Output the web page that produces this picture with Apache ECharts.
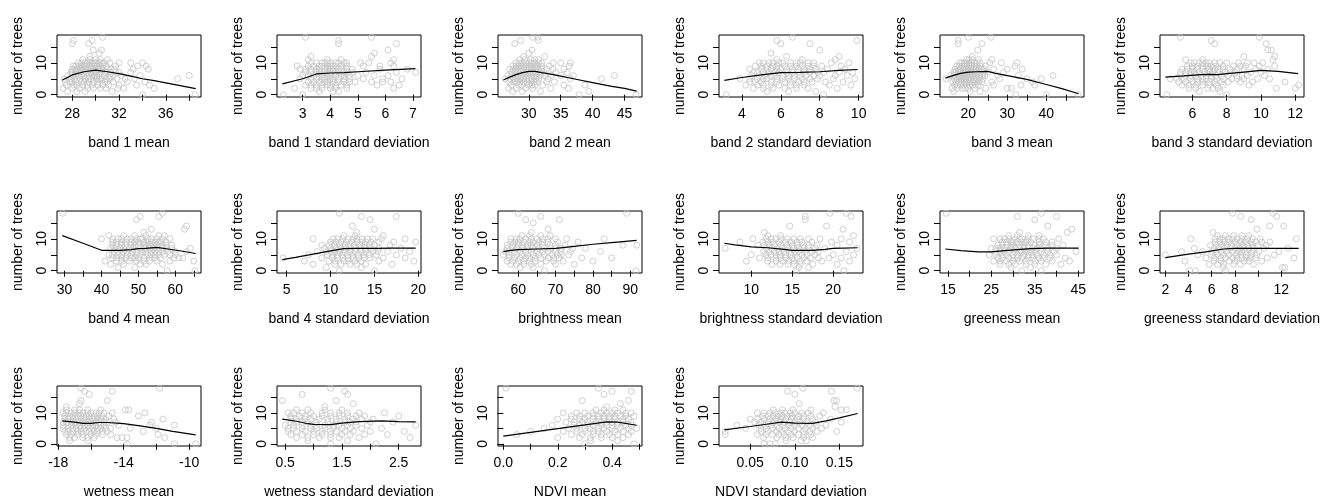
<!DOCTYPE html>
<html>
<head>
<meta charset="utf-8">
<script src="https://cdn.jsdelivr.net/npm/echarts@6/dist/echarts.min.js"></script>
<style>
  html, body { margin: 0; padding: 0; background: #fff; }
  #chart { width: 1331px; height: 500px; }
</style>
</head>
<body>
<div id="chart"></div>
<script>
// panel titles (x axis names), in reading order
var xNames = ['band 1 mean', 'band 1 standard deviation', 'band 2 mean', 'band 2 standard deviation',
    'band 3 mean', 'band 3 standard deviation', 'band 4 mean', 'band 4 standard deviation',
    'brightness mean', 'brightness standard deviation', 'greeness mean', 'greeness standard deviation',
    'wetness mean', 'wetness standard deviation', 'NDVI mean', 'NDVI standard deviation'];
var yName = 'number of trees';

var xTicks = [[28, 30, 32, 34, 36, 38], [3, 4, 5, 6, 7], [30, 35, 40, 45], [4, 6, 8, 10],
    [20, 25, 30, 35, 40, 45], [6, 8, 10, 12], [30, 35, 40, 45, 50, 55, 60, 65], [5, 10, 15, 20],
    [60, 65, 70, 75, 80, 85, 90], [10, 15, 20], [15, 20, 25, 30, 35, 40, 45], [2, 4, 6, 8, 10, 12],
    [-18, -16, -14, -12, -10], [0.5, 1, 1.5, 2, 2.5], [0, 0.1, 0.2, 0.3, 0.4, 0.5], [0.05, 0.1, 0.15]];
var xLabels = [[28, 32, 36], [3, 4, 5, 6, 7], [30, 35, 40, 45], [4, 6, 8, 10],
    [20, 30, 40], [6, 8, 10, 12], [30, 40, 50, 60], [5, 10, 15, 20],
    [60, 70, 80, 90], [10, 15, 20], [15, 25, 35, 45], [2, 4, 6, 8, 12],
    [-18, -14, -10], [0.5, 1.5, 2.5], [0, 0.2, 0.4], [0.05, 0.1, 0.15]];
var xDecimals = [0, 0, 0, 0, 0, 0, 0, 0, 0, 0, 0, 0, 0, 1, 1, 2];
var yTicks = [0, 5, 10, 15];
var yLabels = [0, 10];

// observations: index of the inner list = number of trees, values = x
var band1Mean = [[34.0, 38.5], [27.6, 28.4, 29.1, 31.4],
    [27.2, 28.0, 28.6, 29.3, 30.9, 31.9, 32.4, 35.0, 29.8, 30.4],
    [27.5, 28.1, 28.9, 29.7, 30.6, 31.1, 33.5, 34.6, 28.4, 29.3, 30.2, 32.0],
    [27.4, 27.8, 28.3, 28.8, 29.4, 30.2, 30.8, 31.5, 32.7, 34.2, 28.0, 29.0, 29.8, 31.0],
    [27.3, 28.2, 28.7, 29.1, 29.6, 30.1, 30.5, 30.9, 31.8, 32.5, 33.3, 37.0, 27.9, 29.4, 30.3, 31.2],
    [27.6, 28.0, 28.5, 29.0, 29.4, 29.9, 30.3, 30.7, 31.2, 32.2, 33.8, 38.0, 28.2, 28.8, 29.7, 30.1, 31.5],
    [27.9, 28.3, 28.7, 29.2, 29.6, 30.0, 30.4, 30.8, 31.3, 32.0, 33.0, 28.0, 28.5, 29.0, 29.8, 31.0, 31.7],
    [28.0, 28.4, 28.9, 29.3, 29.8, 30.2, 30.6, 31.0, 31.6, 33.2, 34.5, 28.2, 28.7, 29.1, 29.6, 30.4, 31.3],
    [28.1, 28.6, 29.0, 29.5, 29.9, 30.3, 30.9, 31.7, 33.6, 34.3, 28.3, 28.8, 29.2, 29.7, 30.1, 30.6],
    [28.5, 29.1, 29.5, 29.9, 30.1, 30.5, 31.2, 32.0, 33.0, 34.0, 28.8, 29.3, 29.7, 30.3, 30.7],
    [29.5, 30.0, 30.4, 28.9, 31.0], [29.5], [30.3], [29.8, 30.5], [], [28.0, 29.4], [28.1, 29.7], [30.6]];
var band1Sd = [[2.3, 3.0], [3.6, 4.1, 4.3], [2.7, 3.3, 3.7, 4.0, 4.6, 6.3, 3.5, 4.2],
    [3.1, 3.5, 3.9, 4.2, 4.4, 5.7, 6.5, 3.3, 3.7, 4.0, 4.6],
    [3.2, 3.6, 3.8, 4.1, 4.5, 4.9, 5.5, 5.9, 6.2, 3.4, 3.9, 4.3, 4.7],
    [2.9, 3.3, 3.7, 4.0, 4.3, 4.7, 5.2, 6.6, 3.5, 3.8, 4.1, 4.5, 5.9],
    [3.0, 3.4, 3.6, 3.9, 4.2, 4.5, 5.0, 5.6, 6.1, 3.2, 3.7, 4.0, 4.4, 4.7],
    [3.1, 3.5, 3.8, 4.0, 4.3, 4.6, 5.3, 6.4, 7.1, 3.3, 3.6, 3.9, 4.2, 4.5, 4.8],
    [2.9, 3.3, 3.6, 3.9, 4.1, 4.4, 4.8, 5.8, 6.8, 3.1, 3.5, 3.8, 4.0, 4.3, 4.6],
    [2.8, 3.4, 3.7, 4.0, 4.2, 4.6, 5.2, 5.8, 6.3, 3.2, 3.6, 3.9, 4.1, 4.4],
    [3.5, 3.8, 4.0, 4.3, 4.6, 5.1, 5.4, 6.2, 3.3, 3.7, 3.9, 4.2, 4.5],
    [3.2, 3.9, 6.3, 4.4], [3.3, 5.5], [5.6], [6.1], [], [4.3, 6.4], [4.3], [3.1, 5.5]];
var band2Mean = [[37.9, 46.8], [27.5, 29.0, 31.8, 39.4], [26.8, 28.0, 29.5, 30.6, 33.4, 36.2],
    [27.2, 28.4, 29.9, 31.0, 32.2, 35.5, 38.8, 28.9, 30.5],
    [27.0, 28.1, 29.2, 30.3, 31.3, 32.8, 34.0, 27.6, 28.6, 29.7, 30.8],
    [26.3, 27.6, 28.6, 29.6, 30.5, 31.6, 33.0, 36.5, 41.4, 27.1, 28.1, 29.1, 30.0, 31.1],
    [26.7, 27.8, 28.8, 29.8, 30.8, 31.8, 33.5, 35.0, 37.0, 43.4, 27.3, 28.3, 29.3, 30.3, 31.3, 32.5],
    [27.3, 28.3, 29.3, 30.2, 31.2, 32.4, 34.2, 36.0, 27.8, 28.8, 29.8, 30.7, 31.7],
    [27.0, 28.0, 29.0, 30.0, 31.0, 32.0, 33.8, 35.5, 27.5, 28.5, 29.5, 30.5, 31.5, 32.8],
    [27.5, 28.5, 29.5, 30.4, 31.4, 33.2, 36.3, 28.0, 29.0, 30.0, 31.0, 32.0],
    [28.0, 29.0, 30.0, 30.9, 32.0, 33.8, 35.0, 36.5, 28.5, 29.5, 30.5, 31.5],
    [28.6, 30.3, 31.5, 29.4, 30.9], [29.2, 32.5], [30.0], [30.5], [], [27.8], [28.7, 31.5], [30.6, 31.4]];
var band2Sd = [[3.2, 8.2], [5.3, 6.4, 7.8], [4.6, 5.6, 6.8, 7.4, 8.9, 5.1, 6.2],
    [4.2, 5.1, 5.9, 6.5, 7.2, 8.5, 9.6, 4.8, 5.5, 6.8],
    [4.4, 5.0, 5.5, 6.2, 6.9, 7.6, 8.3, 9.2, 4.7, 5.8, 6.5, 7.2],
    [3.9, 4.8, 5.3, 5.8, 6.4, 7.1, 7.9, 8.7, 9.8, 4.4, 5.1, 6.1, 6.7, 7.5],
    [4.5, 5.2, 5.7, 6.1, 6.7, 7.3, 8.0, 8.8, 9.4, 4.9, 5.5, 6.4, 7.0, 7.7],
    [4.8, 5.4, 5.9, 6.3, 6.9, 7.5, 8.2, 9.0, 9.7, 4.6, 5.1, 5.7, 6.6, 7.2, 7.9],
    [5.0, 5.5, 6.0, 6.6, 7.2, 7.8, 8.4, 9.3, 4.4, 5.3, 5.8, 6.3, 6.9, 7.5],
    [4.7, 5.3, 5.8, 6.2, 6.8, 7.4, 8.1, 9.1, 5.0, 5.6, 6.5, 7.1, 7.7],
    [5.1, 5.6, 6.1, 6.5, 7.0, 7.7, 8.6, 9.5, 4.9, 5.4, 5.9, 6.8, 7.4],
    [5.8, 7.1, 8.8], [6.3, 9.0], [5.5], [8.0], [], [6.0, 7.5], [5.8, 9.9], [6.6]];
var band3Mean = [[32.2, 40.0, 48.2], [16.2, 20.5, 23.0], [15.8, 18.4, 20.0, 21.6, 24.5, 30.0, 31.0, 17.2, 19.2],
    [16.5, 18.0, 19.6, 21.0, 22.5, 26.5, 33.5, 37.0, 17.2, 18.8, 20.3, 21.8],
    [16.0, 17.5, 19.0, 20.3, 21.8, 23.5, 26.0, 36.5, 16.8, 18.2, 19.6, 21.0, 22.6],
    [14.3, 17.0, 18.2, 19.4, 20.6, 22.0, 23.8, 28.0, 35.0, 38.7, 16.4, 17.6, 18.8, 20.0, 21.3, 22.8],
    [15.5, 17.3, 18.6, 19.8, 21.2, 22.6, 24.3, 27.5, 32.8, 41.7, 16.2, 17.9, 19.2, 20.5, 21.9, 23.5],
    [16.8, 18.0, 19.2, 20.4, 21.6, 23.0, 25.0, 29.0, 16.3, 17.4, 18.6, 19.8, 21.0, 22.3, 24.0],
    [17.5, 18.8, 20.0, 21.4, 22.8, 24.0, 26.5, 30.0, 33.8, 16.6, 18.1, 19.4, 20.7, 22.0, 23.4],
    [17.0, 18.4, 19.6, 20.8, 22.2, 24.5, 32.0, 17.6, 19.0, 20.2, 21.5, 23.0],
    [17.8, 19.0, 20.2, 21.5, 23.0, 25.5, 28.5, 32.5, 18.4, 19.6, 20.8, 22.2],
    [19.5, 21.0, 26.0, 20.2, 22.6], [21.0], [], [22.4], [], [17.4, 23.5], [17.4], [20.0, 25.8]];
var band3Sd = [[4.5, 8.0], [6.4, 7.6], [5.8, 6.9, 7.5, 10.9, 12.0, 6.2, 7.2],
    [5.4, 6.2, 7.0, 7.8, 9.3, 12.2, 5.8, 6.6, 7.4],
    [5.2, 6.0, 6.6, 7.3, 8.1, 8.8, 9.5, 11.4, 5.6, 6.3, 7.0, 7.7],
    [4.7, 5.5, 6.3, 6.8, 7.4, 8.3, 9.0, 9.8, 10.5, 5.1, 5.9, 6.6, 7.1, 7.8, 8.6],
    [5.3, 5.9, 6.5, 7.1, 7.7, 8.6, 9.2, 10.2, 5.6, 6.2, 6.8, 7.4, 8.1, 8.9],
    [5.6, 6.1, 6.7, 7.2, 7.9, 8.5, 9.4, 10.0, 5.3, 5.9, 6.4, 7.0, 7.5, 8.2],
    [5.4, 6.0, 6.6, 7.0, 7.5, 8.2, 9.0, 9.7, 10.4, 5.7, 6.3, 6.9, 7.3, 7.8, 8.6],
    [5.7, 6.3, 6.9, 7.4, 8.4, 9.1, 9.9, 10.8, 6.0, 6.6, 7.1, 7.8, 8.8],
    [5.9, 6.4, 6.8, 7.3, 8.0, 8.7, 9.6, 10.1, 6.1, 6.6, 7.0, 7.6, 9.2],
    [5.6, 6.6, 10.7], [9.0, 10.8], [], [10.4, 10.6], [], [7.3, 10.3], [7.1], [5.3, 9.9]];
var band4Mean = [[57.8, 65.3], [44.5, 49.0], [42.5, 46.0, 50.5, 52.0, 56.5],
    [41.0, 44.0, 47.5, 51.5, 55.0, 58.5, 65.0, 45.5, 49.5, 53.0],
    [43.0, 45.5, 48.0, 50.0, 53.0, 56.0, 59.5, 61.0, 62.0, 44.0, 46.5, 49.0, 51.5, 54.5],
    [42.0, 44.5, 47.0, 49.5, 52.5, 54.5, 57.0, 60.0, 43.0, 45.5, 48.0, 50.5, 53.5, 55.5, 58.5],
    [43.5, 46.0, 48.5, 51.0, 53.5, 55.5, 58.0, 63.0, 44.5, 47.0, 49.5, 52.0, 54.5, 56.5, 60.0],
    [42.5, 45.0, 47.5, 50.5, 52.0, 54.0, 56.5, 59.0, 64.0, 43.5, 46.0, 48.5, 51.5, 53.0, 55.0, 57.5],
    [44.0, 46.5, 49.0, 51.5, 53.0, 55.0, 57.5, 43.0, 45.5, 48.0, 50.0, 52.0, 54.0, 56.5, 59.0],
    [43.0, 45.5, 48.0, 50.0, 52.5, 54.5, 56.0, 44.0, 46.5, 49.0, 51.5, 53.5, 55.5, 57.5],
    [40.0, 44.5, 47.0, 49.5, 51.0, 53.5, 56.5, 58.5, 43.0, 45.5, 48.0, 50.5, 52.5, 55.0],
    [42.0, 52.0, 55.5, 46.0, 49.0, 57.0], [51.5], [53.5, 62.5], [63.0], [], [49.5], [50.5, 55.5], [29.5, 56.5]];
var band4Sd = [[11.0, 15.0], [9.5, 13.5], [8.0, 10.5, 12.2, 14.0, 17.0, 11.2, 13.0],
    [7.0, 9.8, 11.5, 12.8, 15.5, 19.5, 10.5, 12.0, 13.5],
    [4.6, 9.0, 10.8, 12.0, 13.2, 14.5, 16.0, 18.5, 10.2, 11.4, 12.6, 13.8],
    [7.5, 10.2, 11.3, 12.5, 13.8, 15.2, 17.5, 9.6, 10.8, 11.9, 13.1, 14.4],
    [8.5, 10.0, 11.0, 12.2, 13.5, 14.8, 16.5, 19.0, 9.5, 10.5, 11.6, 12.8, 14.0, 15.4],
    [9.3, 10.6, 11.8, 12.9, 14.0, 15.5, 18.0, 10.0, 11.2, 12.3, 13.4, 14.6],
    [9.0, 10.4, 11.6, 12.7, 13.9, 15.0, 16.8, 9.8, 11.0, 12.1, 13.3, 14.4],
    [10.0, 11.2, 12.4, 13.6, 14.6, 17.2, 19.7, 10.6, 11.8, 13.0, 14.0, 15.5],
    [8.0, 10.8, 12.0, 13.0, 14.2, 15.8, 18.5, 10.3, 11.4, 12.6, 13.6, 14.8],
    [11.5, 12.8, 16.0], [13.0], [15.0], [12.5], [], [14.5], [13.5, 17.5], [11.0]];
var brightMean = [[67.0, 91.5], [60.5, 64.0], [58.0, 61.5, 66.0, 70.0, 75.0, 59.5, 63.5],
    [57.0, 60.0, 63.0, 67.5, 72.0, 80.0, 58.5, 61.5, 64.5, 69.5],
    [59.0, 62.0, 64.5, 68.0, 71.0, 77.0, 85.0, 57.5, 60.5, 63.0, 66.0, 69.5],
    [56.0, 59.5, 62.5, 65.5, 69.0, 73.5, 57.5, 61.0, 64.0, 67.0, 70.5, 71.5],
    [57.5, 60.5, 63.5, 66.5, 70.0, 74.0, 82.0, 56.5, 59.0, 62.0, 65.0, 68.0, 71.5],
    [58.5, 61.0, 64.0, 67.0, 71.5, 78.0, 57.0, 59.5, 62.5, 65.5, 68.5, 70.0, 74.5],
    [57.0, 60.0, 62.5, 65.0, 68.5, 72.5, 88.0, 91.7, 58.5, 61.0, 63.5, 66.5, 70.0],
    [58.0, 61.5, 64.0, 66.5, 70.5, 76.0, 59.0, 60.0, 63.0, 65.5, 68.0],
    [59.5, 62.0, 65.0, 68.0, 73.0, 83.0, 58.0, 60.5, 63.5, 66.5, 70.0],
    [61.0, 66.0, 63.0, 68.5], [63.5], [68.0], [], [64.0], [62.0, 71.0], [66.0], [60.0, 89.0]];
var brightSd = [[15.5, 21.3], [15.8, 17.0], [12.5, 14.5, 16.0, 17.5, 20.5, 13.5, 15.2],
    [9.4, 12.0, 13.8, 15.2, 16.8, 18.6, 22.0, 13.0, 14.6, 16.0],
    [11.0, 13.0, 14.2, 15.6, 17.2, 19.5, 21.0, 12.0, 13.6, 15.0, 16.4, 18.2],
    [10.0, 12.4, 13.5, 14.8, 16.2, 17.8, 20.0, 22.5, 11.8, 13.0, 14.2, 15.4, 16.8],
    [11.5, 12.8, 14.0, 15.4, 16.6, 18.2, 21.6, 12.2, 13.4, 14.6, 15.8, 17.4],
    [6.8, 11.8, 13.2, 14.6, 15.8, 17.0, 19.0, 22.9, 12.5, 13.8, 15.2, 16.4, 17.8],
    [10.8, 12.2, 13.6, 15.0, 16.4, 18.0, 20.5, 11.6, 12.8, 14.4, 15.6, 17.0],
    [8.6, 11.4, 12.6, 14.2, 15.6, 17.4, 19.8, 22.0, 12.0, 13.4, 14.8, 16.2],
    [10.2, 11.8, 13.0, 14.4, 16.0, 18.4, 21.0, 12.4, 13.6, 15.2, 17.0],
    [12.0, 13.6, 22.5], [11.6], [21.2], [14.7, 19.2], [], [16.6], [16.6, 22.2], [19.6, 21.6]];
var greenMean = [[32.0, 36.5], [29.5, 34.0], [27.0, 30.5, 33.0, 37.5, 41.0, 29.0, 35.0],
    [25.5, 28.5, 31.5, 35.0, 39.0, 43.0, 27.0, 30.0, 33.0, 36.5],
    [26.5, 29.0, 31.0, 33.5, 36.0, 38.5, 42.0, 27.5, 30.0, 32.0, 34.5, 37.0],
    [24.5, 27.5, 30.0, 32.5, 34.5, 37.0, 40.0, 26.0, 28.5, 31.0, 33.5, 35.5, 38.5],
    [26.0, 28.0, 30.5, 32.0, 34.0, 36.5, 39.5, 44.5, 27.0, 29.0, 31.5, 33.0, 35.0, 38.0],
    [25.0, 27.0, 29.5, 31.5, 33.5, 35.5, 38.0, 26.0, 28.0, 30.5, 32.5, 34.5, 36.5, 40.0],
    [26.5, 28.5, 30.0, 32.5, 35.0, 37.5, 41.5, 27.5, 29.5, 31.5, 33.5, 36.0, 39.0],
    [27.5, 29.5, 31.0, 33.0, 36.0, 39.0, 28.5, 30.0, 32.0, 34.0, 37.5],
    [25.5, 28.0, 30.5, 32.0, 34.5, 37.0, 40.5, 27.0, 29.0, 31.5, 33.5, 36.0],
    [29.0, 33.5, 31.0, 36.0], [31.5, 42.5], [43.5], [38.0], [], [35.0], [31.0, 40.0], [14.6, 36.5]];
var greenSd = [[4.1, 4.6, 7.2], [7.0, 12.1, 12.3], [5.8, 6.5, 7.9, 9.6, 7.0, 8.5],
    [3.7, 6.2, 7.5, 8.8, 10.3, 6.8, 8.0, 9.2],
    [5.5, 6.8, 7.8, 8.6, 9.3, 10.8, 13.1, 6.2, 7.2, 8.2, 9.0, 9.8],
    [2.0, 4.8, 6.0, 7.0, 8.1, 9.0, 9.9, 11.4, 6.5, 7.5, 8.5, 9.4],
    [3.4, 5.2, 6.4, 7.3, 8.3, 8.9, 10.1, 11.8, 6.0, 6.8, 7.8, 8.6, 9.5],
    [4.5, 6.6, 7.6, 8.4, 9.2, 10.5, 12.6, 6.2, 7.1, 8.0, 8.8, 9.6],
    [5.9, 6.9, 7.7, 8.7, 9.5, 10.7, 6.4, 7.3, 8.2, 9.1, 10.0],
    [6.3, 7.1, 8.0, 8.9, 9.8, 11.0, 6.7, 7.5, 8.5, 9.4, 10.3],
    [4.2, 6.7, 7.4, 8.2, 9.1, 10.2, 13.3, 6.3, 7.0, 7.8, 8.6, 9.5],
    [6.5, 7.9, 8.6, 7.2, 9.2], [6.1], [9.9], [11.0, 12.2], [], [9.4], [8.5, 11.6], [7.8, 11.3]];
var wetMean = [[-13.8, -10.9, -9.6], [-17.3, -16.2],
    [-17.0, -16.5, -15.8, -14.4, -14.1, -13.8, -11.5, -17.3, -16.2],
    [-17.5, -16.8, -16.0, -15.3, -11.9, -17.2, -16.5, -15.7, -14.8],
    [-17.6, -17.1, -16.6, -16.1, -15.6, -15.0, -12.8, -17.4, -16.8, -16.3, -15.8, -15.3],
    [-17.4, -16.9, -16.4, -15.9, -15.4, -14.8, -13.6, -12.0, -17.7, -17.1, -16.6, -16.1, -15.6, -15.1],
    [-17.7, -17.2, -16.7, -16.2, -15.7, -15.2, -14.3, -12.4, -10.9, -17.4, -16.9, -16.4, -15.9, -15.4],
    [-17.5, -17.0, -16.5, -16.0, -15.5, -15.0, -14.5, -12.3, -17.7, -17.2, -16.7, -16.2, -15.7, -15.2],
    [-17.6, -17.1, -16.6, -16.1, -15.6, -15.1, -14.6, -11.6, -17.4, -16.9, -16.4, -15.9, -15.4],
    [-17.3, -16.8, -16.3, -15.8, -15.3, -14.9, -13.1, -17.6, -17.1, -16.6, -16.1, -15.6],
    [-17.7, -17.2, -16.7, -16.2, -15.7, -15.2, -14.7, -12.7, -17.5, -17.0, -16.5, -16.0, -15.5],
    [-17.0, -16.2, -15.4, -13.9, -13.7, -17.5, -16.7], [-17.5], [-16.7], [-16.6, -15.0], [], [-16.1],
    [-16.4, -14.7], [-16.6, -11.8]];
var wetSd = [[1.3, 2.1], [0.9, 1.6], [0.7, 1.1, 1.45, 1.8, 2.7, 0.9, 1.3],
    [0.6, 1.0, 1.3, 1.65, 2.3, 0.8, 1.15, 1.5, 1.9],
    [0.55, 0.85, 1.15, 1.4, 1.7, 2.0, 2.6, 0.7, 1.0, 1.3, 1.55],
    [0.65, 0.95, 1.2, 1.5, 1.85, 2.2, 0.55, 0.8, 1.05, 1.35, 1.65],
    [0.5, 0.8, 1.05, 1.35, 1.6, 1.95, 2.8, 0.65, 0.95, 1.2, 1.45, 1.75],
    [0.7, 0.9, 1.25, 1.55, 1.75, 2.4, 0.6, 0.8, 1.05, 1.4, 1.65, 2.0],
    [0.6, 0.85, 1.1, 1.4, 1.7, 2.05, 0.7, 0.95, 1.25, 1.55, 1.85],
    [0.75, 1.0, 1.3, 1.6, 1.9, 2.5, 0.6, 0.85, 1.15, 1.45, 1.75],
    [0.55, 0.8, 1.15, 1.45, 1.8, 2.25, 0.65, 0.95, 1.3, 1.6],
    [0.9, 1.5, 0.7, 1.2], [1.2], [1.7], [0.45, 1.4], [], [0.8, 1.6], [1.55], [1.3]];
var ndviMean = [[0.3, 0.48], [0.32, 0.42], [0.2, 0.28, 0.36, 0.44, 0.32, 0.4],
    [0.05, 0.25, 0.33, 0.39, 0.46, 0.29, 0.36, 0.42],
    [0.1, 0.22, 0.3, 0.35, 0.41, 0.47, 0.27, 0.33, 0.38, 0.44],
    [0.15, 0.27, 0.32, 0.37, 0.43, 0.49, 0.24, 0.3, 0.35, 0.4, 0.46],
    [0.18, 0.26, 0.31, 0.36, 0.4, 0.45, 0.28, 0.33, 0.38, 0.42, 0.47],
    [0.23, 0.29, 0.34, 0.38, 0.42, 0.47, 0.26, 0.31, 0.36, 0.4, 0.44],
    [0.2, 0.28, 0.33, 0.37, 0.41, 0.44, 0.25, 0.3, 0.35, 0.39, 0.46],
    [0.25, 0.31, 0.35, 0.39, 0.43, 0.48, 0.28, 0.33, 0.37, 0.41, 0.45],
    [0.22, 0.3, 0.36, 0.4, 0.45, 0.27, 0.33, 0.38, 0.42, 0.47],
    [0.34, 0.41, 0.37, 0.44], [0.38], [0.43], [0.29, 0.46], [], [0.37], [0.4, 0.47], [0.01, 0.35]];
var ndviSd = [[0.066, 0.072, 0.078], [0.09, 0.107, 0.113], [0.065, 0.08, 0.098, 0.12, 0.09, 0.11],
    [0.022, 0.058, 0.075, 0.088, 0.104, 0.118, 0.068, 0.082, 0.096, 0.11],
    [0.022, 0.062, 0.079, 0.093, 0.11, 0.125, 0.147, 0.07, 0.086, 0.1, 0.117],
    [0.045, 0.068, 0.082, 0.096, 0.112, 0.13, 0.062, 0.075, 0.089, 0.104, 0.12],
    [0.035, 0.06, 0.074, 0.087, 0.1, 0.116, 0.135, 0.067, 0.08, 0.093, 0.108, 0.124],
    [0.055, 0.07, 0.083, 0.094, 0.106, 0.123, 0.152, 0.062, 0.076, 0.088, 0.1, 0.114],
    [0.05, 0.066, 0.079, 0.09, 0.103, 0.12, 0.14, 0.058, 0.072, 0.084, 0.096, 0.11],
    [0.064, 0.076, 0.086, 0.097, 0.11, 0.128, 0.07, 0.081, 0.092, 0.104, 0.118],
    [0.058, 0.072, 0.084, 0.095, 0.108, 0.132, 0.065, 0.078, 0.089, 0.1, 0.115],
    [0.076, 0.118, 0.152, 0.158, 0.086, 0.098], [0.145], [0.105], [0.144, 0.147], [], [0.1],
    [0.092, 0.141], [0.109, 0.17]];

// smoothed trend lines [x, y]
var fit1 = [[27.15, 4.6], [28, 6.2], [29, 7.2], [30, 7.7], [31, 7.2], [32, 6.6], [33, 5.8], [34, 5], [35, 4.4], [36, 3.7], [37, 3.0], [38.55, 1.9]];
var fit2 = [[2.26, 3.4], [3, 5.0], [3.5, 6.5], [4, 6.8], [4.5, 6.9], [5, 7.2], [6, 7.7], [7.09, 8.2]];
var fit3 = [[26, 4.6], [27, 5.5], [28, 6.3], [29, 6.9], [30, 7.3], [31, 7.3], [32, 6.9], [33, 6.6], [35, 5.8], [37, 5.0], [40, 3.8], [43, 2.6], [45, 2.0], [46.9, 1.1]];
var fit4 = [[3.1, 4.5], [4, 5.4], [5, 6.2], [6, 6.9], [7, 7.0], [8, 7.2], [9, 7.6], [9.95, 7.9]];
var fit5 = [[14.1, 5.2], [16, 6.0], [18, 6.7], [20, 7.1], [22, 7.2], [25, 7.3], [27, 6.7], [30, 6.0], [35, 4.8], [40, 3.2], [44, 1.9], [48.3, 0.3]];
var fit6 = [[4.42, 5.5], [5.5, 5.9], [6.5, 6.3], [7, 6.4], [7.5, 6.3], [8, 6.6], [9, 7.1], [10, 7.6], [11, 7.3], [12.17, 6.6]];
var fit7 = [[29.4, 11], [35, 8.6], [40, 6.4], [45, 6.4], [48, 6.6], [50, 6.9], [52, 7.0], [55, 7.3], [58, 6.8], [62, 6.1], [65.5, 5.4]];
var fit8 = [[4.5, 3.5], [6, 4.2], [8, 5.2], [10, 6.2], [11.5, 6.9], [13, 7.0], [15, 7.0], [17, 7.1], [19.7, 7.1]];
var fit9 = [[56, 6.0], [58, 6.4], [60, 6.6], [65, 6.8], [70, 7.0], [75, 7.6], [80, 8.3], [85, 8.8], [91.7, 9.5]];
var fit10 = [[6.7, 8.6], [8, 8.1], [10, 7.5], [12, 7.2], [14, 6.7], [15, 6.4], [17.5, 6.4], [19, 6.7], [20, 7.0], [23.0, 7.2]];
var fit11 = [[14.4, 6.8], [18, 6.3], [22, 5.9], [25, 5.9], [28, 6.3], [31, 6.6], [34, 6.9], [38, 7.1], [45.1, 7.1]];
var fit12 = [[2.0, 4.1], [4, 5.2], [5.5, 5.9], [7, 6.8], [8, 7.0], [10, 7.0], [13.5, 7.0]];
var fit13 = [[-17.75, 7.4], [-17, 7.0], [-16.5, 6.6], [-16, 6.6], [-15.5, 6.9], [-15, 6.9], [-14, 6.5], [-13, 5.8], [-12, 5.0], [-11, 4.0], [-9.6, 2.9]];
var fit14 = [[0.45, 8.0], [0.7, 7.3], [0.9, 6.5], [1.0, 6.3], [1.3, 6.2], [1.5, 6.7], [1.8, 7.2], [2.2, 7.4], [2.5, 7.2], [2.8, 7.1]];
var fit15 = [[0.0, 2.5], [0.1, 3.7], [0.2, 4.9], [0.3, 6.1], [0.38, 7.1], [0.42, 7.0], [0.49, 6.0]];
var fit16 = [[0.021, 4.5], [0.05, 5.6], [0.07, 6.4], [0.085, 7.0], [0.1, 6.7], [0.12, 6.6], [0.135, 7.4], [0.15, 8.4], [0.1705, 9.8]];

var observations = [band1Mean, band1Sd, band2Mean, band2Sd, band3Mean, band3Sd, band4Mean, band4Sd,
    brightMean, brightSd, greenMean, greenSd, wetMean, wetSd, ndviMean, ndviSd];
var fits = [fit1, fit2, fit3, fit4, fit5, fit6, fit7, fit8, fit9, fit10, fit11, fit12, fit13, fit14, fit15, fit16];

var chart = echarts.init(document.getElementById('chart'));
var font = 'Liberation Sans, Arial, sans-serif';
var colLeft = [57, 277, 498, 719, 940, 1160];
var rowTop = [35, 211, 386];

function toPoints(rows) {
    var res = [];
    for (var y = 0; y < rows.length; y++) {
        for (var k = 0; k < rows[y].length; k++) res.push([rows[y][k], y]);
    }
    return res;
}

var grids = [], xAxes = [], yAxes = [], series = [];
for (var i = 0; i < 16; i++) {
    var pts = toPoints(observations[i]);
    var all = pts.concat(fits[i]);
    var xmin = Infinity, xmax = -Infinity, ymin = Infinity, ymax = -Infinity;
    all.forEach(function (p) {
        xmin = Math.min(xmin, p[0]); xmax = Math.max(xmax, p[0]);
        ymin = Math.min(ymin, p[1]); ymax = Math.max(ymax, p[1]);
    });
    var padX = (xmax - xmin) * 0.04, padY = (ymax - ymin) * 0.04;   // R style 4% range extension
    var dec = xDecimals[i];

    grids.push({
        left: colLeft[i % 6], top: rowTop[Math.floor(i / 6)], width: 144, height: 62,
        show: true, borderColor: '#000', borderWidth: 1, backgroundColor: 'transparent'
    });
    xAxes.push({
        gridIndex: i, type: 'value', min: xmin - padX, max: xmax + padX,
        splitLine: { show: false },
        axisLine: { show: false },
        axisTick: { show: true, length: 6, lineStyle: { color: '#000' }, customValues: xTicks[i] },
        axisLabel: {
            customValues: xLabels[i], color: '#000', fontSize: 14, fontFamily: font, margin: 10,
            hideOverlap: false,
            formatter: (function (d) { return function (v) { return v.toFixed(d); }; })(dec)
        },
        name: xNames[i], nameLocation: 'middle', nameGap: 39,
        nameTextStyle: { color: '#000', fontSize: 14, fontFamily: font }
    });
    yAxes.push({
        gridIndex: i, type: 'value', min: ymin - padY, max: ymax + padY,
        splitLine: { show: false },
        axisLine: { show: false },
        axisTick: { show: true, length: 6, lineStyle: { color: '#000' }, customValues: yTicks },
        axisLabel: {
            customValues: yLabels, rotate: 90, color: '#000', fontSize: 14, fontFamily: font, margin: 8,
            hideOverlap: false
        },
        name: yName, nameLocation: 'middle', nameGap: 32,
        nameTextStyle: { color: '#000', fontSize: 14, fontFamily: font }
    });
    series.push({
        type: 'scatter', xAxisIndex: i, yAxisIndex: i, data: pts,
        symbol: 'circle', symbolSize: 6, silent: true, z: 2,
        itemStyle: { color: 'rgba(0,0,0,0)', borderColor: '#c4c4c4', borderWidth: 1 }
    });
    series.push({
        type: 'line', xAxisIndex: i, yAxisIndex: i, data: fits[i],
        showSymbol: false, silent: true, z: 3,
        lineStyle: { color: '#000', width: 1.2 }
    });
}

chart.setOption({
    animation: false,
    backgroundColor: '#fff',
    grid: grids,
    xAxis: xAxes,
    yAxis: yAxes,
    series: series
});
</script>
</body>
</html>
